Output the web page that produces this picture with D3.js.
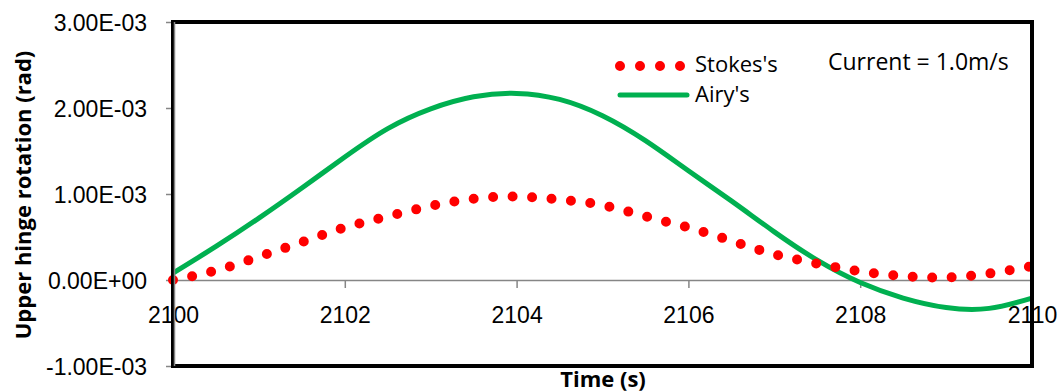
<!DOCTYPE html>
<html>
<head>
<meta charset="utf-8">
<script src="https://cdn.jsdelivr.net/npm/d3@7"></script>
<style>
  body { margin: 0; background: #fff; }
  svg { display: block; font-family: "Open Sans", Lato, sans-serif; }
  .axis text { font-size: 23px; fill: #000; }
  .axis line { stroke: #868686; stroke-width: 1.5; }
  .title { font-size: 22px; font-weight: bold; }
</style>
</head>
<body>
<div id="chart"></div>
<script>
// data (time in s, rotation in rad)
const time = [2100, 2100.5, 2101, 2101.5, 2102, 2102.5, 2103, 2103.5, 2104, 2104.5, 2105,
  2105.5, 2106, 2106.5, 2107, 2107.5, 2108, 2108.5, 2109, 2109.5, 2110]
const stokes = [0.0000, 0.00011, 0.00027, 0.00044, 0.00061, 0.00074, 0.00086, 0.000945, 0.00097,
  0.000935, 0.00087, 0.00074, 0.00061, 0.000455, 0.00030, 0.00019, 0.00010, 0.000045, 0.00003,
  0.000075, 0.00016]
const airy = [0.00008, 0.00039, 0.00072, 0.00107, 0.00143, 0.00176, 0.00199, 0.00213, 0.00217,
  0.00210, 0.00191, 0.00162, 0.00127, 0.00092, 0.00056, 0.00023, -0.00003, -0.00021, -0.00032,
  -0.00033, -0.00021]
const xTicks = [2100, 2102, 2104, 2106, 2108, 2110]
const yTicks = [-0.001, 0, 0.001, 0.002, 0.003]
const seriesNames = ["Stokes's", "Airy's"]
const note = "Current = 1.0m/s"

const W = 1064, H = 392
const margin = { top: 22, right: 32, bottom: 26, left: 173 }
const width = W - margin.left - margin.right
const height = H - margin.top - margin.bottom

const svg = d3.select("#chart").append("svg")
  .attr("width", W)
  .attr("height", H)

const x = d3.scaleLinear().domain([2100, 2110]).range([0, width])
const y = d3.scaleLinear().domain([-0.001, 0.003]).range([height, 0])

// 3.00E-03 style labels
const sci = v => {
  const [m, e] = v.toExponential(2).split("e")
  const n = +e
  return m + "E" + (n < 0 ? "-" : "+") + String(Math.abs(n)).padStart(2, "0")
}

const g = svg.append("g")
  .attr("transform", "translate(" + margin.left + "," + margin.top + ")")

// y axis
g.append("g")
  .attr("class", "y axis")
  .call(d3.axisLeft(y).tickValues(yTicks).tickSize(7).tickPadding(19).tickFormat(sci))
  .call(a => a.select(".domain").remove())
  .selectAll("text").attr("dy", "0.35em")

// x axis sits on zero
g.append("g")
  .attr("class", "x axis")
  .attr("transform", "translate(0," + y(0) + ")")
  .call(d3.axisBottom(x).tickValues(xTicks).tickSize(8).tickFormat(d => d))
  .call(a => a.select(".domain").attr("stroke", "#868686").attr("stroke-width", 1.5))
  .selectAll("text").attr("y", 27)

const line = series => d3.line()
  .x((d, i) => x(time[i]))
  .y(d => y(d))
  .curve(d3.curveNatural)(series)

g.append("path")
  .attr("d", line(airy))
  .attr("fill", "none")
  .attr("stroke", "#00B050")
  .attr("stroke-width", 5)

g.append("path")
  .attr("d", line(stokes))
  .attr("fill", "none")
  .attr("stroke", "#FF0000")
  .attr("stroke-width", 10)
  .attr("stroke-linecap", "round")
  .attr("stroke-dasharray", "0 19.5")

// plot frame
g.append("rect")
  .attr("width", width)
  .attr("height", height)
  .attr("fill", "none")
  .attr("stroke", "#000")
  .attr("stroke-width", 4)
g.append("line")
  .attr("x1", 1.5).attr("x2", 1.5)
  .attr("y1", 0).attr("y2", height)
  .attr("stroke", "#868686")
  .attr("stroke-width", 1.5)

// legend
const legend = svg.append("g")
legend.append("line")
  .attr("x1", 620).attr("x2", 681)
  .attr("y1", 66).attr("y2", 66)
  .attr("stroke", "#FF0000")
  .attr("stroke-width", 10)
  .attr("stroke-linecap", "round")
  .attr("stroke-dasharray", "0 20")
legend.append("line")
  .attr("x1", 620).attr("x2", 687)
  .attr("y1", 95).attr("y2", 95)
  .attr("stroke", "#00B050")
  .attr("stroke-width", 5)
  .attr("stroke-linecap", "round")
legend.selectAll("text.lab")
  .data(seriesNames)
  .enter().append("text")
  .attr("class", "lab")
  .attr("x", 695)
  .attr("y", (d, i) => 64 + i * 30)
  .attr("dy", "0.35em")
  .attr("font-size", 22)
  .text(d => d)

svg.append("text")
  .attr("x", 828)
  .attr("y", 62)
  .attr("dy", "0.35em")
  .attr("font-size", 23)
  .text(note)

// axis titles
svg.append("text")
  .attr("class", "title")
  .attr("transform", "translate(23,195) rotate(-90)")
  .attr("text-anchor", "middle")
  .attr("dy", "0.35em")
  .text("Upper hinge rotation (rad)")

svg.append("text")
  .attr("class", "title")
  .attr("x", 603)
  .attr("y", 379)
  .attr("text-anchor", "middle")
  .attr("dy", "0.35em")
  .text("Time (s)")
</script>
</body>
</html>
